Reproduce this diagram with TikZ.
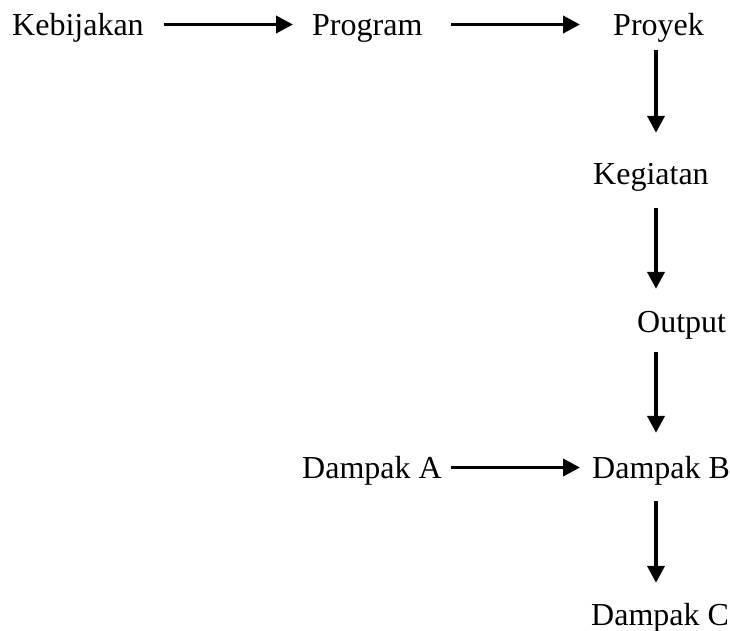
\documentclass[tikz,border=0pt]{standalone}
\usepackage{fontspec}
\setmainfont{Liberation Serif}
\usetikzlibrary{arrows.meta}
\begin{document}
\begin{tikzpicture}[x=1pt,y=-1pt,
  lbl/.style={inner sep=0pt, anchor=base west, text height=21pt, text depth=0pt,
    font=\fontsize{32}{38}\selectfont},
  flow/.style={line width=3.8pt, -{Triangle[length=17pt,width=17pt]}}]
\useasboundingbox (0,0) rectangle (730,630);
\coordinate (col) at (656,0);
\node[lbl] (keb) at (12,35) {Kebijakan};
\node[lbl] (prog) at (312,35) {Program};
\node[lbl] (proy) at (613,35) {Proyek};
\node[lbl] (keg) at (593,184) {Kegiatan};
\node[lbl] (out) at (637,332) {Output};
\node[lbl] (da) at (302,478) {Dampak A};
\node[lbl] (db) at (592,478) {Dampak B};
\node[lbl] (dc) at (591,625) {Dampak C};
\draw[flow] ([xshift=152pt]keb.west) -- ([xshift=-19pt]prog.west);
\draw[flow] ([xshift=139pt]prog.west) -- ([xshift=-33pt]proy.west);
\draw[flow] ([yshift=-15pt]proy.south -| col) -- ([yshift=30pt]keg.north -| col);
\draw[flow] ([yshift=-24pt]keg.south -| col) -- ([yshift=22pt]out.north -| col);
\draw[flow] ([yshift=-20pt]out.south -| col) -- ([yshift=24pt]db.north -| col);
\draw[flow] ([yshift=-23pt]db.south -| col) -- ([yshift=21pt]dc.north -| col);
\draw[flow] ([xshift=149pt]da.west) -- ([xshift=-12pt]db.west);
\end{tikzpicture}
\end{document}
